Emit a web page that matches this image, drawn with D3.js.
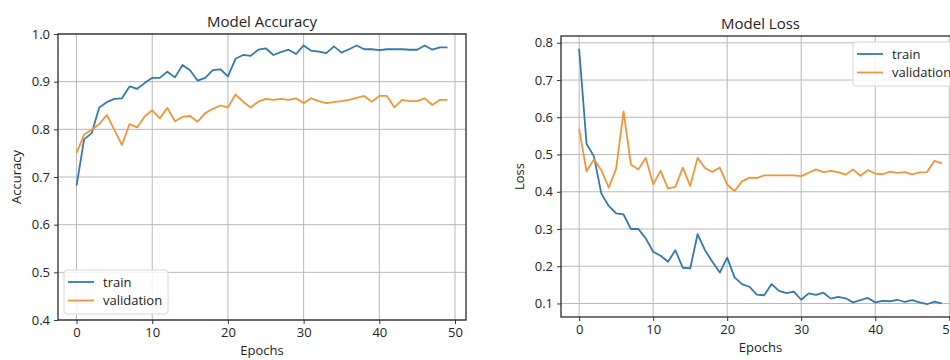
<!DOCTYPE html>
<html>
<head>
<meta charset="utf-8">
<script src="https://cdn.jsdelivr.net/npm/d3@7"></script>
<style>
  body { margin: 0; background: #fff; }
  svg text { font-family: "Open Sans", "Noto Sans", sans-serif; fill: #222; }
</style>
</head>
<body>
<svg id="chart" width="950" height="360"></svg>
<script>
// epochs 0..49
const accTrain = [0.682, 0.779, 0.792, 0.846, 0.857, 0.864, 0.865, 0.890, 0.885, 0.897,
  0.908, 0.908, 0.921, 0.909, 0.935, 0.924, 0.902, 0.908, 0.924, 0.926,
  0.911, 0.948, 0.956, 0.954, 0.967, 0.970, 0.956, 0.962, 0.967, 0.958,
  0.976, 0.965, 0.963, 0.960, 0.974, 0.961, 0.968, 0.976, 0.968, 0.968,
  0.966, 0.968, 0.968, 0.968, 0.967, 0.967, 0.976, 0.967, 0.972, 0.972];
const accVal = [0.750, 0.789, 0.799, 0.811, 0.830, 0.799, 0.767, 0.811, 0.804, 0.827,
  0.840, 0.823, 0.845, 0.817, 0.826, 0.828, 0.816, 0.834, 0.843, 0.850,
  0.846, 0.873, 0.858, 0.846, 0.858, 0.864, 0.862, 0.864, 0.862, 0.865,
  0.855, 0.865, 0.859, 0.855, 0.857, 0.859, 0.862, 0.866, 0.870, 0.858,
  0.870, 0.870, 0.846, 0.862, 0.859, 0.859, 0.865, 0.851, 0.862, 0.862];
const lossTrain = [0.784, 0.529, 0.495, 0.395, 0.362, 0.342, 0.339, 0.300, 0.300, 0.275,
  0.239, 0.228, 0.212, 0.243, 0.196, 0.194, 0.286, 0.243, 0.212, 0.183,
  0.223, 0.170, 0.152, 0.145, 0.124, 0.122, 0.152, 0.134, 0.128, 0.132,
  0.110, 0.127, 0.123, 0.129, 0.113, 0.118, 0.114, 0.103, 0.109, 0.115,
  0.103, 0.107, 0.106, 0.110, 0.104, 0.109, 0.103, 0.098, 0.105, 0.100];
const lossVal = [0.569, 0.455, 0.487, 0.458, 0.411, 0.462, 0.616, 0.473, 0.460, 0.491,
  0.420, 0.456, 0.409, 0.413, 0.465, 0.416, 0.491, 0.464, 0.453, 0.465,
  0.419, 0.402, 0.428, 0.438, 0.437, 0.444, 0.444, 0.444, 0.444, 0.444,
  0.442, 0.451, 0.460, 0.453, 0.456, 0.453, 0.446, 0.460, 0.443, 0.458,
  0.449, 0.447, 0.454, 0.451, 0.453, 0.447, 0.452, 0.453, 0.483, 0.476];
const xTicks = [0, 10, 20, 30, 40, 50];
const accTicks = [0.4, 0.5, 0.6, 0.7, 0.8, 0.9, 1.0];
const lossTicks = [0.1, 0.2, 0.3, 0.4, 0.5, 0.6, 0.7, 0.8];
const seriesNames = ["train", "validation"];

const colors = ["#3579ab", "#f0963a"];
const svg = d3.select("#chart");

function drawPanel(opt) {
  const { left, top, width, height, yDomain, yTicks, series, title, ylabel, legendPos } = opt;
  const n = series[0].length;
  const pad = (n - 1) * 0.05;
  const x = d3.scaleLinear().domain([-pad, n - 1 + pad]).range([left, left + width]);
  const y = d3.scaleLinear().domain(yDomain).range([top + height, top]);

  const g = svg.append("g");

  // grid
  g.append("g")
    .selectAll("line").data(xTicks).join("line")
    .attr("x1", d => x(d)).attr("x2", d => x(d))
    .attr("y1", top).attr("y2", top + height)
    .attr("stroke", "#b8b8b8").attr("stroke-width", 1);
  g.append("g")
    .selectAll("line").data(yTicks).join("line")
    .attr("x1", left).attr("x2", left + width)
    .attr("y1", d => y(d)).attr("y2", d => y(d))
    .attr("stroke", "#b8b8b8").attr("stroke-width", 1);

  // lines
  const line = d3.line().x((d, i) => x(i)).y(d => y(d));
  series.forEach((s, k) => {
    g.append("path")
      .datum(s)
      .attr("d", line)
      .attr("fill", "none")
      .attr("stroke", colors[k])
      .attr("stroke-width", 1.8)
      .attr("stroke-linejoin", "round");
  });

  // axes
  const xAxis = g.append("g")
    .attr("transform", `translate(0,${top + height})`)
    .call(d3.axisBottom(x).tickValues(xTicks).tickSize(4).tickPadding(4).tickFormat(d3.format("d")));
  const yAxis = g.append("g")
    .attr("transform", `translate(${left},0)`)
    .call(d3.axisLeft(y).tickValues(yTicks).tickSize(4).tickPadding(4).tickFormat(d3.format(".1f")));
  [xAxis, yAxis].forEach(a => {
    a.select(".domain").remove();
    a.selectAll(".tick line").attr("stroke", "#333");
    a.selectAll(".tick text").style("font-size", "13px").attr("fill", "#222");
  });

  // frame
  g.append("rect")
    .attr("x", left).attr("y", top).attr("width", width).attr("height", height)
    .attr("fill", "none").attr("stroke", "#2a2a2a").attr("stroke-width", 1.3);

  // title + labels
  g.append("text")
    .attr("x", left + width / 2).attr("y", top - 7)
    .attr("text-anchor", "middle").style("font-size", "15px")
    .text(title);
  g.append("text")
    .attr("x", left + width / 2).attr("y", top + height + 35)
    .attr("text-anchor", "middle").style("font-size", "13px")
    .text("Epochs");
  g.append("text")
    .attr("transform", `translate(${left - 37},${top + height / 2}) rotate(-90)`)
    .attr("text-anchor", "middle").style("font-size", "13px")
    .text(ylabel);

  // legend
  const lg = g.append("g").attr("transform", `translate(${legendPos[0]},${legendPos[1]})`);
  lg.append("rect")
    .attr("width", 104).attr("height", 44).attr("rx", 3)
    .attr("fill", "#fff").attr("fill-opacity", 0.85)
    .attr("stroke", "#d6d6d6");
  seriesNames.forEach((name, k) => {
    lg.append("line")
      .attr("x1", 4).attr("x2", 30)
      .attr("y1", 12 + k * 18.5).attr("y2", 12 + k * 18.5)
      .attr("stroke", colors[k]).attr("stroke-width", 1.8);
    lg.append("text")
      .attr("x", 39).attr("y", 12 + k * 18.5).attr("dy", "0.35em")
      .style("font-size", "13px")
      .text(name);
  });
}

drawPanel({
  left: 58, top: 34, width: 408, height: 286,
  yDomain: [0.4, 1.0], yTicks: accTicks,
  series: [accTrain, accVal],
  title: "Model Accuracy", ylabel: "Accuracy",
  legendPos: [64, 270]
});

const lossAll = lossTrain.concat(lossVal);
const lMin = d3.min(lossAll), lMax = d3.max(lossAll);
const lPad = (lMax - lMin) * 0.05;
drawPanel({
  left: 561, top: 36, width: 399, height: 281,
  yDomain: [lMin - lPad, lMax + lPad], yTicks: lossTicks,
  series: [lossTrain, lossVal],
  title: "Model Loss", ylabel: "Loss",
  legendPos: [853, 42]
});
</script>
</body>
</html>
